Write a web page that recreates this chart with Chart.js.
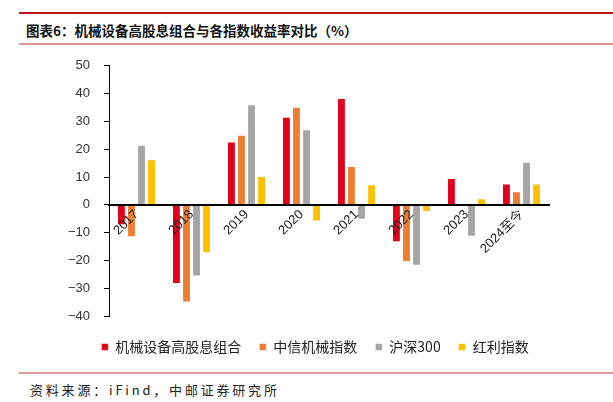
<!DOCTYPE html>
<html>
<head>
<meta charset="utf-8">
<script src="https://cdn.jsdelivr.net/npm/chart.js@4.4.1/dist/chart.umd.min.js"></script>
<style>
  html, body { margin: 0; padding: 0; background: #fff; }
  body { width: 613px; height: 402px; position: relative; overflow: hidden; font-family: "Noto Sans CJK SC", sans-serif; }
  .rule { position: absolute; left: 19px; width: 594px; }
  #title { position: absolute; left: 26px; top: 20px; font-size: 13.5px; font-weight: bold; color: #111; white-space: nowrap; letter-spacing: 0px; }
  #source { position: absolute; left: 30px; top: 380px; font-size: 13px; color: #222; white-space: nowrap; letter-spacing: 2.8px; }
  #wrap { position: absolute; left: 0; top: 44px; width: 613px; height: 328px; }
</style>
</head>
<body>
<div class="rule" style="top:12px;height:2px;background:#C3161C;"></div>
<div id="title">图表6：机械设备高股息组合与各指数收益率对比（%）</div>
<div class="rule" style="top:43px;height:2px;background:#E09494;"></div>
<div id="wrap"><canvas id="c"></canvas></div>
<div class="rule" style="top:372px;height:2px;background:#E39B9B;"></div>
<div id="source">资料来源：iFind，中邮证券研究所</div>
<script>
const categories = ["2017", "2018", "2019", "2020", "2021", "2022", "2023", "2024至今"];
const seriesNames = ["机械设备高股息组合", "中信机械指数", "沪深300", "红利指数"];
const portfolio = [-7.4, -28.5, 22.8, 31.7, 38.4, -13.5, 9.6, 7.7];
const citicMachinery = [-11.7, -35.1, 25.2, 35.3, 14.0, -20.6, null, 4.9];
const csi300 = [21.6, -25.8, 36.2, 27.2, -5.4, -21.9, -11.5, 15.5];
const dividendIndex = [16.4, -17.4, 10.4, -6.0, 7.4, -2.6, 2.4, 7.7];
const yTicks = [50, 40, 30, 20, 10, 0, -10, -20, -30, -40];
const colors = ["#E2001A", "#ED7D31", "#A5A5A5", "#FFC000"];

const seriesValues = [portfolio, citicMachinery, csi300, dividendIndex];
const datasets = seriesNames.map((name, i) => ({
  label: name,
  data: seriesValues[i],
  backgroundColor: colors[i],
  borderColor: "rgba(255,255,255,0.55)",
  borderWidth: 1,
  categoryPercentage: 0.73,
  barPercentage: 0.88
}));

new Chart(document.getElementById("c"), {
  type: "bar",
  data: { labels: categories, datasets },
  options: {
    responsive: true,
    maintainAspectRatio: false,
    animation: false,
    layout: { padding: { left: 17, right: 0, top: 0, bottom: 8 } },
    plugins: {
      tooltip: { enabled: false },
      legend: {
        position: "bottom",
        title: { display: true, text: "", font: { size: 5 }, padding: 0 },
        labels: {
          boxWidth: 7,
          boxHeight: 7,
          padding: 18,
          color: "#222",
          font: { family: "'Noto Sans CJK SC', sans-serif", size: 14 }
        }
      }
    },
    scales: {
      x: {
        position: { y: 0 },
        grid: { display: false, drawTicks: false },
        border: { display: true, color: "#000", width: 2, z: 1 },
        ticks: {
          z: 1,
          color: "#222",
          minRotation: 45,
          maxRotation: 45,
          padding: 2,
          font: { family: "'Liberation Sans', 'Noto Sans CJK SC', sans-serif", size: 13 }
        }
      },
      y: {
        min: -40,
        max: 50,
        afterFit(s) { s.width = 92; },
        afterBuildTicks(s) { s.ticks = yTicks.map(v => ({ value: v })); },
        grid: { drawOnChartArea: false, drawTicks: true, tickLength: 5, color: "#000", lineWidth: 1 },
        border: { display: true, color: "#000", width: 1 },
        ticks: {
          color: "#333",
          padding: 14,
          font: { family: "'Liberation Sans', sans-serif", size: 13 },
          callback: v => String(v).replace("-", "\u2212")
        }
      },
      yRightSpace: {
        type: "linear",
        position: "right",
        afterFit(s) { s.width = 64; },
        grid: { display: false, drawTicks: false },
        border: { display: false },
        ticks: { display: false }
      }
    }
  }
});
</script>
</body>
</html>
